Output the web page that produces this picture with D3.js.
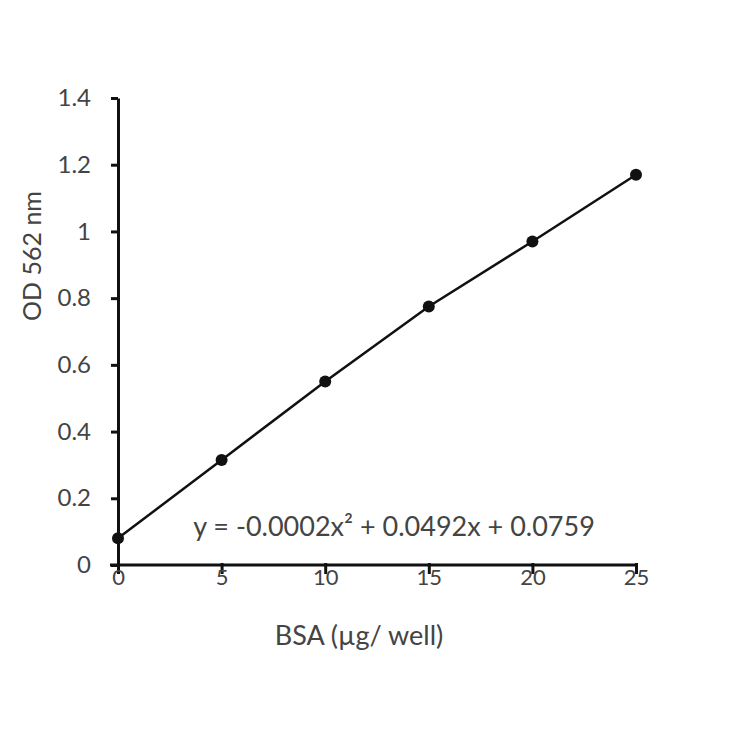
<!DOCTYPE html>
<html>
<head>
  <meta charset="utf-8">
  <title>BSA standard curve</title>
  <style>
    body { margin: 0; background: #fff; }
    text { font-family: Lato, "Open Sans", sans-serif; fill: #444; }
    .axis path, .axis line { stroke: #111; stroke-width: 3px; }
  </style>
</head>
<body>
  <svg id="chart"></svg>
  <script src="https://d3js.org/d3.v7.min.js"></script>
  <script>
    // data
    const bsa = [0, 5, 10, 15, 20, 25];
    const od = [0.08, 0.315, 0.55, 0.775, 0.97, 1.17];
    const xTicks = [0, 5, 10, 15, 20, 25];
    const yTicks = [0, 0.2, 0.4, 0.6, 0.8, 1, 1.2, 1.4];
    const equation = "y = -0.0002x² + 0.0492x + 0.0759";

    const svg = d3.select("#chart")
      .attr("width", 730)
      .attr("height", 730);

    const x = d3.scaleLinear().domain([0, 25]).range([118, 636]);
    const y = d3.scaleLinear().domain([0, 1.4]).range([565, 98]);

    // y axis
    const yAxis = svg.append("g")
      .attr("class", "axis")
      .attr("transform", "translate(118,0)")
      .call(d3.axisLeft(y).tickValues(yTicks).tickSize(7).tickSizeOuter(0).tickFormat(d3.format("~g")));
    yAxis.selectAll("text")
      .attr("x", -27)
      .style("font-size", "24px");

    // x axis, ticks hang into the labels
    const xAxis = svg.append("g")
      .attr("class", "axis")
      .attr("transform", "translate(0,565)")
      .call(d3.axisBottom(x).tickValues(xTicks).tickSize(9).tickSizeOuter(0));
    xAxis.selectAll(".tick line").attr("y1", -2);
    xAxis.select(".domain").attr("d", "M110,0H636");
    xAxis.selectAll("text")
      .attr("y", 4)
      .style("font-size", "22px");

    // line and points
    const pts = bsa.map((v, i) => [v, od[i]]);
    svg.append("path")
      .datum(pts)
      .attr("fill", "none")
      .attr("stroke", "#111")
      .attr("stroke-width", 2.5)
      .attr("d", d3.line().x(d => x(d[0])).y(d => y(d[1])));

    svg.selectAll(".pt")
      .data(pts)
      .enter()
      .append("circle")
      .attr("class", "pt")
      .attr("cx", d => x(d[0]))
      .attr("cy", d => y(d[1]))
      .attr("r", 6)
      .attr("fill", "#111");

    // equation
    svg.append("text")
      .attr("x", 394)
      .attr("y", 536)
      .attr("text-anchor", "middle")
      .style("font-size", "27px")
      .text(equation);

    // axis titles
    svg.append("text")
      .attr("x", 359)
      .attr("y", 645)
      .attr("text-anchor", "middle")
      .style("font-size", "27px")
      .text("BSA (µg/ well)");

    svg.append("text")
      .attr("transform", "translate(41,256) rotate(-90)")
      .attr("text-anchor", "middle")
      .style("font-size", "25px")
      .text("OD 562 nm");
  </script>
</body>
</html>
